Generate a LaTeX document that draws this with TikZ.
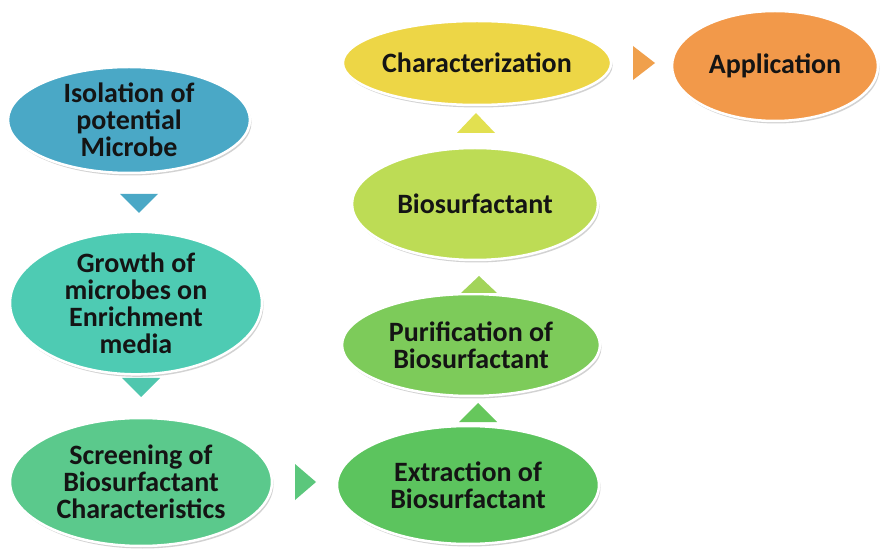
\documentclass[tikz,border=0pt]{standalone}
\usepackage{fontspec}
\setmainfont{Carlito}
\usetikzlibrary{shapes.geometric,shadows}
\definecolor{cIso}{HTML}{4AA8C6}
\definecolor{cGro}{HTML}{4ECBB3}
\definecolor{cScr}{HTML}{5BC98C}
\definecolor{cExt}{HTML}{5CC45E}
\definecolor{cPur}{HTML}{7DCB5A}
\definecolor{cBio}{HTML}{BDDC55}
\definecolor{cCha}{HTML}{EDD646}
\definecolor{cApp}{HTML}{F2994A}
\definecolor{aIso}{HTML}{4AA8C6}
\definecolor{aGro}{HTML}{4FC7AE}
\definecolor{aScr}{HTML}{5BC77C}
\definecolor{aExt}{HTML}{66C75C}
\definecolor{aPur}{HTML}{A2D45A}
\definecolor{aBio}{HTML}{E2E050}
\definecolor{aCha}{HTML}{F0A04C}
\tikzset{
  stage/.style={ellipse, draw=white, line width=2.5pt, fill=#1,
    drop shadow={shadow xshift=1.5pt, shadow yshift=-2.5pt, fill=black!35, opacity=0.5},
    align=center, inner sep=0pt, font=\bfseries\fontsize{28}{27}\selectfont, text=black!92},
  tri/.style={fill=#1, draw=none},
}
\begin{document}
\begin{tikzpicture}[x=1pt, y=-1pt]
\useasboundingbox[fill=white] (0,0) rectangle (884,553);

% stages
\node[stage=cIso, minimum width=242pt, minimum height=106pt] (iso) at (129,120) {Isolation of\\potential\\Microbe};
\node[stage=cGro, minimum width=252pt, minimum height=118pt] (gro) at (136,303) {Growth of\\microbes on\\Enrichment\\media};
\node[stage=cScr, minimum width=262pt, minimum height=128pt] (scr) at (141,482) {Screening of\\Biosurfactant\\Characteristics};
\node[stage=cExt, minimum width=262pt, minimum height=118pt] (ext) at (468,485) {Extraction of\\Biosurfactant};
\node[stage=cPur, minimum width=258pt, minimum height=102pt] (pur) at (471,345) {Purification of\\Biosurfactant};
\node[stage=cBio, minimum width=246pt, minimum height=112pt] (bio) at (475,204) {Biosurfactant};
\node[stage=cCha, minimum width=266pt, minimum height=84pt] (cha) at (477,63) {Characterization};
\node[stage=cApp, minimum width=206pt, minimum height=110pt] (app) at (775,66) {Application};

% arrow heads between stages
\coordinate (a1) at (139,203);
\coordinate (a2) at (141,387);
\coordinate (a3) at (305,482);
\coordinate (a4) at (478,413);
\coordinate (a5) at (479,285);
\coordinate (a6) at (476,123);
\coordinate (a7) at (644,63);
\fill[tri=aIso] ([shift={(-19,-9)}]a1) -- ([shift={(19,-9)}]a1) -- ([shift={(0,10)}]a1) -- cycle;
\fill[tri=aGro] ([shift={(-19,-9)}]a2) -- ([shift={(19,-9)}]a2) -- ([shift={(0,10)}]a2) -- cycle;
\fill[tri=aScr] ([shift={(-10,-18)}]a3) -- ([shift={(11,0)}]a3) -- ([shift={(-10,18)}]a3) -- cycle;
\fill[tri=aExt] ([shift={(-19,9)}]a4) -- ([shift={(19,9)}]a4) -- ([shift={(0,-10)}]a4) -- cycle;
\fill[tri=aPur] ([shift={(-18,8)}]a5) -- ([shift={(18,8)}]a5) -- ([shift={(0,-9)}]a5) -- cycle;
\fill[tri=aBio] ([shift={(-19,10)}]a6) -- ([shift={(19,10)}]a6) -- ([shift={(0,-10)}]a6) -- cycle;
\fill[tri=aCha] ([shift={(-11,-17)}]a7) -- ([shift={(11,0)}]a7) -- ([shift={(-11,17)}]a7) -- cycle;
\end{tikzpicture}
\end{document}
